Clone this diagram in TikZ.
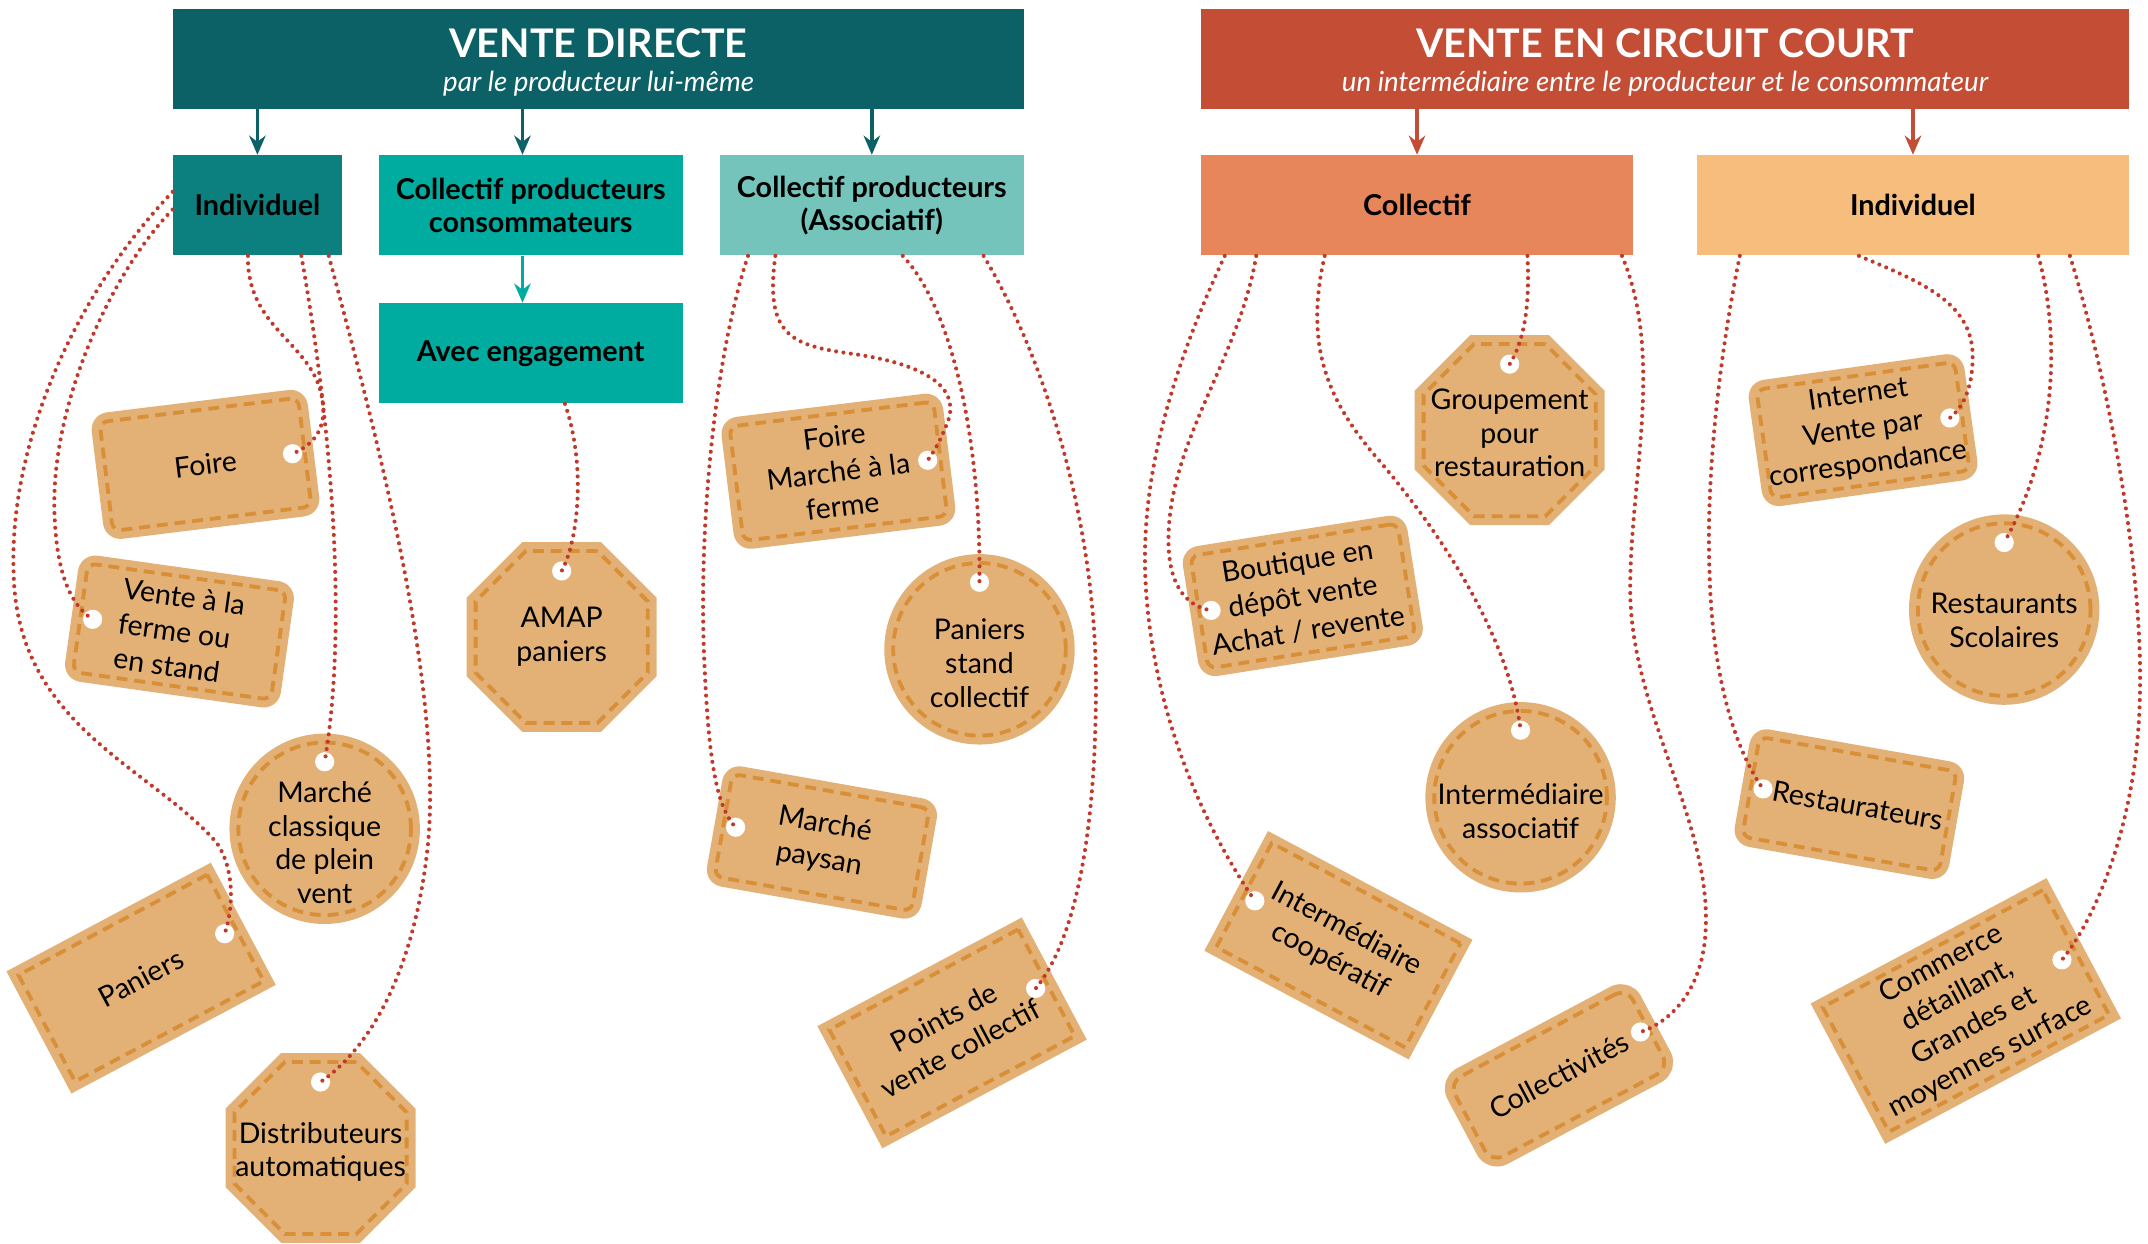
\documentclass[tikz,border=0pt]{standalone}
\usepackage{fontspec}
\setmainfont{Lato}
\usetikzlibrary{shapes.geometric,calc,arrows.meta}

\definecolor{directdark}{HTML}{0B6166}
\definecolor{directmid}{HTML}{0B807F}
\definecolor{directbright}{HTML}{00AC9F}
\definecolor{directlight}{HTML}{74C4BB}
\definecolor{courtdark}{HTML}{C44D35}
\definecolor{courtmid}{HTML}{E8865B}
\definecolor{courtlight}{HTML}{F6BD7D}
\definecolor{tagfill}{HTML}{E3B176}
\definecolor{tagdash}{HTML}{D98F38}
\definecolor{stringred}{HTML}{C1392B}

\tikzset{
  bigheader/.style={rectangle, anchor=north west, inner sep=0pt, align=center, text=white,
    minimum height=36.5pt, font=\fontsize{14.4pt}{12.5pt}\selectfont\bfseries},
  header/.style={rectangle, anchor=north west, inner sep=0pt, align=center, text=black,
    minimum height=36.5pt, font=\fontsize{10.5pt}{12pt}\selectfont\bfseries},
  tagbase/.style={fill=tagfill, draw=tagdash, line width=1.4pt,
    dash pattern=on 4pt off 2.5pt, inner sep=0pt, align=center, text=black,
    font=\fontsize{10.4pt}{12.8pt}\selectfont},
  roundtag/.style={tagbase, rectangle, rounded corners=3pt,
    minimum width=73pt, minimum height=40pt,
    preaction={draw=tagfill, solid, line width=6.5pt, line join=round}},
  sharptag/.style={tagbase, rectangle, minimum width=78pt, minimum height=44pt,
    preaction={draw=tagfill, solid, line width=6.5pt, line join=miter}},
  circletag/.style={tagbase, circle, minimum size=63pt,
    preaction={draw=tagfill, solid, line width=6.5pt}},
  octtag/.style={tagbase, regular polygon, regular polygon sides=8, minimum size=68pt,
    preaction={draw=tagfill, solid, line width=6.5pt, line join=miter}},
  tagtext/.style={inner sep=0pt, align=center, text=black,
    font=\fontsize{10.4pt}{12.3pt}\selectfont},
  hole/.style={circle, fill=white, minimum size=7pt, inner sep=0pt},
  string/.style={draw=stringred, line width=1.5pt, dash pattern=on 0pt off 2.7pt,
    line cap=round},
  arrdir/.style={draw=directdark, line width=1.3pt, -{Stealth[length=7pt,width=6pt]}},
  arrcourt/.style={arrdir, draw=courtdark}
}

\begin{document}
\begin{tikzpicture}[x=0.5pt, y=-0.5pt]
\useasboundingbox (0,0) rectangle (1568,908);

% Headers
\node[bigheader, fill=directdark, minimum width=310.5pt] (direct) at (126,6)
  {\rule{0pt}{13pt}VENTE DIRECTE\\{\fontsize{10.1pt}{12.5pt}\selectfont\mdseries\itshape par le producteur lui-même}};
\node[bigheader, fill=courtdark, minimum width=339pt] (court) at (876,6)
  {\rule{0pt}{13pt}VENTE EN CIRCUIT COURT\\{\fontsize{10.1pt}{12.5pt}\selectfont\mdseries\itshape un intermédiaire entre le producteur et le consommateur}};

\node[header, fill=directmid, minimum width=61.5pt] (indiv) at (126,113) {Individuel};
\node[header, fill=directbright, minimum width=111pt] (conso) at (276,113) {Collectif producteurs\\consommateurs};
\node[header, fill=directlight, minimum width=111pt] (assoc) at (525,113) {Collectif producteurs\\(Associatif)};
\node[header, fill=directbright, minimum width=111pt] (engage) at (276,221) {Avec engagement};
\node[header, fill=courtmid, minimum width=158pt] (coll) at (876,113) {Collectif};
\node[header, fill=courtlight, minimum width=158pt] (indiv2) at (1238,113) {Individuel};

% Arrows
\coordinate (cx) at ($(conso.north)+(-6,0)$);
\draw[arrdir] (direct.south -| indiv.north) -- (indiv.north);
\draw[arrdir] (direct.south -| cx) -- (cx);
\draw[arrdir] (direct.south -| assoc.north) -- (assoc.north);
\draw[arrdir, draw=directbright] (conso.south -| cx) -- (engage.north -| cx);
\draw[arrcourt] (court.south -| coll.north) -- (coll.north);
\draw[arrcourt] (court.south -| indiv2.north) -- (indiv2.north);

% Tags, vente directe
\node[roundtag, rotate=7] (foire) at (150,339) {Foire};
\node[hole] (hfoire) at ($(foire.center)!0.86!(foire.east)$) {};
\node[roundtag, rotate=-8, align=left] (vente) at (131,461) {Vente à la\\ferme ou\\en stand};
\node[hole] (hvente) at ($(vente.center)!0.86!(vente.west)$) {};
\node[circletag] (classique) at (237,605) {};
\node[tagtext] (classiquet) at ($(classique)+(0,10)$) {Marché\\classique\\de plein\\vent};
\node[hole] (hclassique) at ($(classique.center)!0.76!(classique.north)$) {};
\node[sharptag, rotate=28] (paniers) at (103,714) {Paniers};
\node[hole] (hpaniers) at ($(paniers.center)!0.87!(paniers.east)$) {};
\node[octtag] (distrib) at (234,838) {};
\node[tagtext] (distribt) at ($(distrib)+(0,3)$) {Distributeurs\\automatiques};
\node[hole] (hdistrib) at ($(distrib.center)!0.75!(distrib.north)$) {};

\node[octtag] (amap) at (410,465) {};
\node[tagtext] (amapt) at (amap) {AMAP\\paniers};
\node[hole] (hamap) at ($(amap.center)!0.75!(amap.north)$) {};

\node[roundtag, rotate=7, minimum width=75pt, minimum height=42pt] (foire2) at (612,344) {Foire\\Marché à la\\ferme};
\node[hole] (hfoire2) at ($(foire2.center)!0.86!(foire2.east)$) {};
\node[circletag] (stand) at (715,474) {};
\node[tagtext] (standt) at ($(stand)+(0,10)$) {Paniers\\stand\\collectif};
\node[hole] (hstand) at ($(stand.center)!0.76!(stand.north)$) {};
\node[roundtag, rotate=-10, minimum height=38pt] (paysan) at (600,615) {Marché\\paysan};
\node[hole] (hpaysan) at ($(paysan.center)!0.86!(paysan.west)$) {};
\node[sharptag, rotate=28] (points) at (695,754) {Points de\\vente collectif};
\node[hole] (hpoints) at ($(points.center)!0.87!(points.east)$) {};

% Tags, circuit court
\node[octtag] (group) at (1102,314) {};
\node[tagtext] (groupt) at ($(group)+(0,2)$) {Groupement\\pour\\restauration};
\node[hole] (hgroup) at ($(group.center)!0.75!(group.north)$) {};
\node[roundtag, rotate=9, minimum width=76.5pt, minimum height=41.5pt] (boutique) at (951,435) {Boutique en\\dépôt vente\\Achat / revente};
\node[hole] (hboutique) at ($(boutique.center)!0.87!(boutique.west)$) {};
\node[circletag] (asso) at (1110,582) {};
\node[tagtext] (assot) at ($(asso)+(0,10)$) {Intermédiaire\\associatif};
\node[hole] (hasso) at ($(asso.center)!0.76!(asso.north)$) {};
\node[sharptag, rotate=-28, minimum height=43pt] (coop) at (977,690) {Intermédiaire\\coopératif};
\node[hole] (hcoop) at ($(coop.center)!0.87!(coop.west)$) {};
\node[roundtag, rotate=28, rounded corners=5pt, minimum width=73.5pt, minimum height=33pt] (collec) at (1138,785) {Collectivités};
\node[hole] (hcollec) at ($(collec.center)!0.9!(collec.east)$) {};

\node[roundtag, rotate=8] (internet) at (1360,314) {Internet\\Vente par\\correspondance};
\node[hole] (hinternet) at ($(internet.center)!0.86!(internet.east)$) {};
\node[circletag] (scol) at (1463,445) {};
\node[tagtext] (scolt) at ($(scol)+(0,8)$) {Restaurants\\Scolaires};
\node[hole] (hscol) at ($(scol.center)!0.76!(scol.north)$) {};
\node[roundtag, rotate=-10, minimum height=37pt] (resto) at (1350,587) {\hspace{6pt}Restaurateurs};
\node[hole] (hresto) at ($(resto.center)!0.86!(resto.west)$) {};
\node[sharptag, rotate=28, minimum width=91pt, minimum height=51.5pt] (commerce) at (1435,738) {Commerce\\détaillant,\\Grandes et\\moyennes surface};
\node[hole] (hcommerce) at ($(commerce.center)!0.86!(commerce.east)$) {};

% Strings
\draw[string] ($(indiv.south west)+(55,0)$) .. controls (180,240) and (228,250) .. (235,290)
  .. controls (240,315) and (226,326) .. (hfoire.center);
\draw[string] ($(indiv.south west)+(94,0)$) .. controls (240,300) and (255,450) .. (hclassique.center);
\draw[string] ($(indiv.south west)+(114,0)$) .. controls (270,300) and (325,500) .. (312,620)
  .. controls (302,710) and (270,765) .. (hdistrib.center);
\draw[string] ($(indiv.north west)+(0,40)$) .. controls (80,200) and (35,300) .. (40,380)
  .. controls (42,420) and (52,442) .. (hvente.center);
\draw[string] ($(indiv.north west)+(0,27)$) .. controls (50,220) and (6,330) .. (10,420)
  .. controls (13,530) and (110,560) .. (158,615) .. controls (172,635) and (170,665) .. (hpaniers.center);
\draw[string] ($(engage.south)+(25,0)$) .. controls (428,340) and (422,395) .. (hamap.center);
\draw[string] ($(assoc.south west)+(21,0)$) .. controls (522,260) and (510,380) .. (514,480)
  .. controls (517,550) and (522,588) .. (hpaysan.center);
\draw[string] ($(assoc.south west)+(41,0)$) .. controls (558,245) and (578,252) .. (620,258)
  .. controls (680,266) and (702,285) .. (691,310) .. controls (687,320) and (683,328) .. (hfoire2.center);
\draw[string] ($(assoc.south west)+(134,0)$) .. controls (695,225) and (716,320) .. (hstand.center);
\draw[string] ($(assoc.south west)+(193,0)$) .. controls (762,260) and (800,380) .. (800,500)
  .. controls (800,620) and (782,690) .. (hpoints.center);
\draw[string] ($(coll.south west)+(18,0)$) .. controls (860,260) and (833,340) .. (836,420)
  .. controls (840,520) and (880,605) .. (hcoop.center);
\draw[string] ($(coll.south west)+(41,0)$) .. controls (905,260) and (855,320) .. (853,390)
  .. controls (852,425) and (864,442) .. (hboutique.center);
\draw[string] ($(coll.south west)+(91,0)$) .. controls (950,260) and (975,300) .. (1010,340)
  .. controls (1060,400) and (1102,470) .. (hasso.center);
\draw[string] ($(coll.south west)+(239,0)$) .. controls (1117,225) and (1112,250) .. (hgroup.center);
\draw[string] ($(coll.south west)+(308,0)$) .. controls (1215,260) and (1190,350) .. (1190,430)
  .. controls (1190,520) and (1250,600) .. (1245,680) .. controls (1243,720) and (1222,745) .. (hcollec.center);
\draw[string] ($(indiv2.south west)+(32,0)$) .. controls (1255,260) and (1245,350) .. (1248,420)
  .. controls (1250,490) and (1265,545) .. (hresto.center);
\draw[string] ($(indiv2.south west)+(119,0)$) .. controls (1400,205) and (1440,220) .. (1440,260)
  .. controls (1440,285) and (1432,298) .. (hinternet.center);
\draw[string] ($(indiv2.south west)+(250,0)$) .. controls (1505,250) and (1500,330) .. (hscol.center);
\draw[string] ($(indiv2.south west)+(273,0)$) .. controls (1540,280) and (1565,420) .. (1562,510)
  .. controls (1560,600) and (1530,670) .. (hcommerce.center);
\end{tikzpicture}
\end{document}
